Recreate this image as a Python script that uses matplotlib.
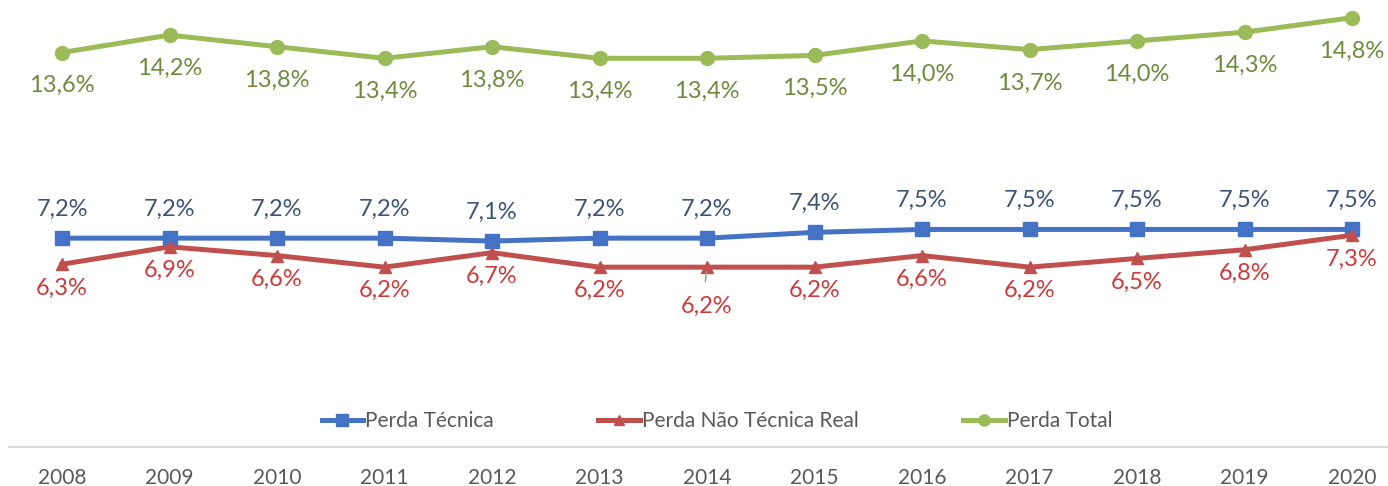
import matplotlib.pyplot as plt

anos = [2008, 2009, 2010, 2011, 2012, 2013, 2014, 2015, 2016, 2017, 2018, 2019, 2020]
perda_tecnica = [7.2, 7.2, 7.2, 7.2, 7.1, 7.2, 7.2, 7.4, 7.5, 7.5, 7.5, 7.5, 7.5]
perda_nao_tecnica = [6.3, 6.9, 6.6, 6.2, 6.7, 6.2, 6.2, 6.2, 6.6, 6.2, 6.5, 6.8, 7.3]
perda_total = [13.6, 14.2, 13.8, 13.4, 13.8, 13.4, 13.4, 13.5, 14.0, 13.7, 14.0, 14.3, 14.8]

plt.rcParams['font.family'] = ['Lato', 'DejaVu Sans']

fig = plt.figure(figsize=(13.88, 4.86), dpi=100)
ax = fig.add_axes([9/1388, 39/486, 1379/1388, 447/486])

azul = '#4472C4'
vermelho = '#C0504D'
verde = '#9BBB59'

ax.plot(anos, perda_tecnica, color=azul, lw=3.6, marker='s', ms=10, label='Perda Técnica', zorder=3)
ax.plot(anos, perda_nao_tecnica, color=vermelho, lw=3.6, marker='^', ms=9, label='Perda Não Técnica Real', zorder=3)
ax.plot(anos, perda_total, color=verde, lw=3.6, marker='o', ms=10, label='Perda Total', zorder=3)

def fmt(v):
    return '{:.1f}%'.format(v).replace('.', ',')

for i, a in enumerate(anos):
    ax.annotate(fmt(perda_total[i]), (a, perda_total[i]), xytext=(0, -24), textcoords='offset points',
                ha='center', va='center', fontsize=17, color='#6E8B3D')
    ax.annotate(fmt(perda_tecnica[i]), (a, perda_tecnica[i]), xytext=(0, 21), textcoords='offset points',
                ha='center', va='center', fontsize=17, color='#3D5478')
    dy = -17
    if a == 2014:
        dy = -28
        ax.annotate('', (a, perda_nao_tecnica[i] - 0.05), xytext=(a - 0.02, perda_nao_tecnica[i] - 0.6),
                    arrowprops=dict(arrowstyle='-', color='#999999', lw=1))
    ax.annotate(fmt(perda_nao_tecnica[i]), (a, perda_nao_tecnica[i]), xytext=(0, dy), textcoords='offset points',
                ha='center', va='center', fontsize=17, color='#CC3A3A')

ax.set_xlim(2008 - 53/107.5, 2020 + 36/107.5)
ax.set_ylim(0, 15.41)
ax.set_xticks(anos)
ax.set_xticklabels([str(a) for a in anos])
ax.set_yticks([])
ax.tick_params(axis='x', length=0, pad=15, labelsize=15, labelcolor='#595959')
for s in ['top', 'right', 'left']:
    ax.spines[s].set_visible(False)
ax.spines['bottom'].set_color('#D9D9D9')
ax.spines['bottom'].set_linewidth(1.5)

ax.legend(loc='center', bbox_to_anchor=(708/1379, 26/447), ncol=3, frameon=False, fontsize=15,
          handlelength=2.0, handletextpad=0.1, columnspacing=5.0, labelcolor='#595959', markerscale=0.8)

fig.savefig('out.png', dpi=100)
